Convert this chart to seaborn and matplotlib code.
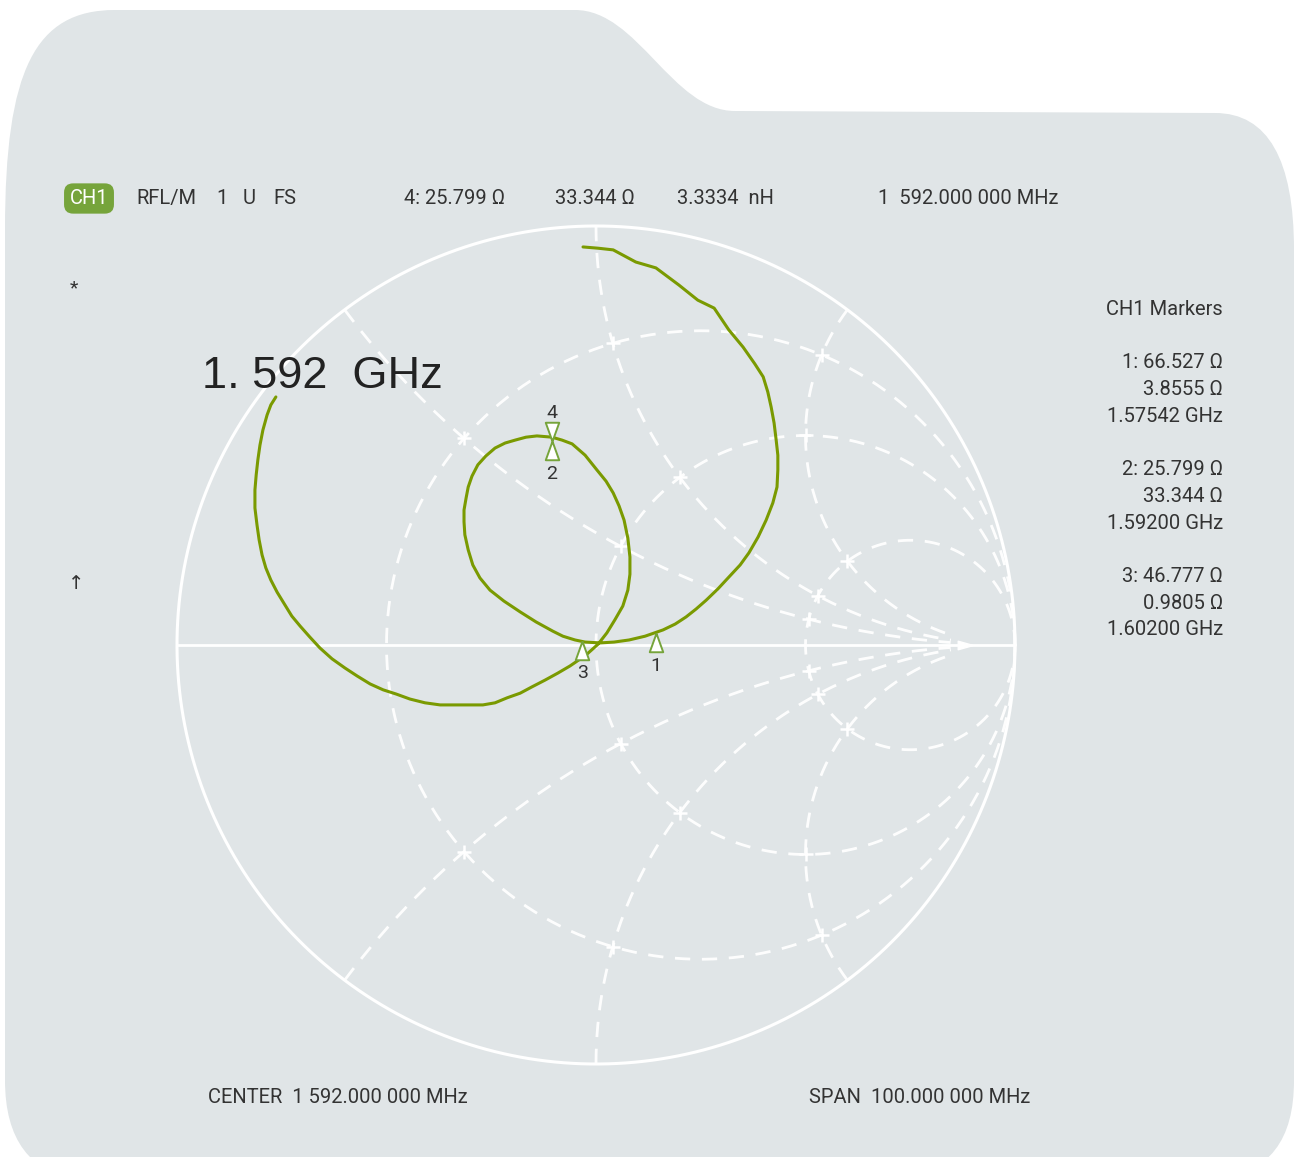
import numpy as np
import pandas as pd
import matplotlib.pyplot as plt
from matplotlib.path import Path
from matplotlib.patches import PathPatch
import seaborn as sns

trace_re = [-0.031, 0.005, 0.041, 0.095, 0.143, 0.198, 0.243, 0.282, 0.317, 0.351,
            0.379, 0.399, 0.410, 0.418, 0.425, 0.430, 0.434, 0.434, 0.432, 0.422,
            0.406, 0.387, 0.365, 0.344, 0.317, 0.291, 0.263, 0.239, 0.215, 0.189,
            0.160, 0.117, 0.079, 0.043, 0.010,
            -0.026, -0.050, -0.079, -0.103, -0.143, -0.181, -0.220, -0.253, -0.277, -0.294,
            -0.305, -0.313, -0.315, -0.315, -0.310, -0.305, -0.296, -0.282, -0.263, -0.241,
            -0.217, -0.193, -0.167, -0.141, -0.105, -0.081, -0.057, -0.026, 0.002, 0.024,
            0.041, 0.055, 0.067, 0.076, 0.081, 0.081, 0.076, 0.064, 0.045, 0.026,
            0.005, -0.024, -0.062, -0.091, -0.122, -0.153, -0.181, -0.212, -0.241, -0.270,
            -0.301, -0.337, -0.372, -0.408, -0.444, -0.477, -0.508, -0.539, -0.570, -0.599,
            -0.630, -0.659, -0.683, -0.706, -0.726, -0.742, -0.761, -0.776, -0.788, -0.797,
            -0.804, -0.809, -0.814, -0.814, -0.811, -0.807, -0.802, -0.795, -0.785, -0.776,
            -0.764]
trace_im = [0.950, 0.947, 0.943, 0.914, 0.900, 0.859, 0.823, 0.804, 0.752, 0.711,
            0.671, 0.640, 0.604, 0.568, 0.530, 0.489, 0.453, 0.418, 0.377, 0.339,
            0.298, 0.258, 0.220, 0.191, 0.162, 0.134, 0.107, 0.086, 0.067, 0.050,
            0.036, 0.021, 0.012, 0.007, 0.005,
            0.007, 0.012, 0.021, 0.033, 0.055, 0.079, 0.105, 0.131, 0.160, 0.191,
            0.227, 0.263, 0.294, 0.322, 0.351, 0.377, 0.403, 0.430, 0.451, 0.470,
            0.482, 0.489, 0.496, 0.499, 0.496, 0.489, 0.480, 0.453, 0.418, 0.391,
            0.363, 0.332, 0.298, 0.255, 0.210, 0.169, 0.131, 0.093, 0.060, 0.029,
            0.002, -0.024, -0.050, -0.067, -0.084, -0.100, -0.115, -0.126, -0.138, -0.143,
            -0.143, -0.143, -0.143, -0.138, -0.129, -0.117, -0.107, -0.093, -0.074, -0.055,
            -0.033, -0.007, 0.019, 0.045, 0.069, 0.095, 0.126, 0.155, 0.184, 0.215,
            0.251, 0.286, 0.327, 0.370, 0.406, 0.442, 0.477, 0.513, 0.549, 0.573,
            0.592]

# Markers (ohms, Z0 = 50)
marker_ids = ["1", "2", "3", "4"]
marker_r = [66.527, 25.799, 46.777, 25.799]
marker_x = [3.8555, 33.344, 0.9805, 33.344]
marker_up = [True, True, True, False]
z0 = 50.0

marker_panel = ["1: 66.527 Ω", "3.8555 Ω", "1.57542 GHz",
                "2: 25.799 Ω", "33.344 Ω", "1.59200 GHz",
                "3: 46.777 Ω", "0.9805 Ω", "1.60200 GHz"]
header_items = ["RFL/M", "1", "U", "FS", "4: 25.799 Ω", "33.344 Ω", "3.3334  nH",
                "1  592.000 000 MHz"]

# Smith chart grid values
r_circles = [1 / 3, 1, 3]
x_arcs = [0.5, 1, 2]

W, H = 1295, 1157
BG = "#e0e5e7"
TRACE = "#7a9a01"
GREEN = "#76a43b"
TXT = "#333333"

sns.set_theme(style="white")
plt.rcParams["font.family"] = ["Roboto", "DejaVu Sans"]

fig = plt.figure(figsize=(W / 100, H / 100), dpi=100)
fig.patch.set_facecolor("white")

# background panel in pixel coordinates
bg = fig.add_axes([0, 0, 1, 1], zorder=0)
bg.set_xlim(0, W)
bg.set_ylim(H, 0)
bg.set_axis_off()
verts = [(5, 1080), (5, 230),
         (5, 70), (35, 10), (115, 10),
         (575, 10),
         (638, 10), (672, 111), (735, 111),
         (1215, 113),
         (1268, 113), (1294, 160), (1294, 250),
         (1294, 1080),
         (1294, 1140), (1270, 1172), (1215, 1182),
         (80, 1182),
         (30, 1172), (5, 1140), (5, 1080),
         (5, 1080)]
codes = ([Path.MOVETO, Path.LINETO] + [Path.CURVE4] * 3 + [Path.LINETO] + [Path.CURVE4] * 3
         + [Path.LINETO] + [Path.CURVE4] * 3 + [Path.LINETO] + [Path.CURVE4] * 3
         + [Path.LINETO] + [Path.CURVE4] * 3 + [Path.CLOSEPOLY])
bg.add_patch(PathPatch(Path(verts, codes), facecolor=BG, edgecolor="none"))

# Smith chart axes in reflection-coefficient units
cx, cy, R = 596, 645, 419
ax = fig.add_axes([0, 0, 1, 1], zorder=1)
ax.patch.set_alpha(0)


def gamma(z):
    return (z - 1) / (z + 1)


dash = dict(color="white", lw=2.0, ls=(0, (5.5, 4.2)), alpha=0.95, zorder=2)
th = np.linspace(0, 2 * np.pi, 600)
ax.plot(np.cos(th), np.sin(th), color="white", lw=2.2, zorder=3)
ax.plot([-1, 1], [0, 0], color="white", lw=2.0, zorder=3)
for r in r_circles:
    c, rad = r / (1 + r), 1 / (1 + r)
    ax.plot(c + rad * np.cos(th), rad * np.sin(th), **dash)
rr = np.concatenate([[0], np.geomspace(1e-3, 12, 500)])
for xv in x_arcs:
    for s in (1, -1):
        g = gamma(rr + 1j * s * xv)
        ax.plot(g.real, g.imag, **dash)
# crossings
for r in r_circles:
    for xv in x_arcs:
        for s in (1, -1):
            g = gamma(r + 1j * s * xv)
            ax.plot(g.real, g.imag, marker="+", ms=10, mew=1.8, color="white",
                    ls="none", zorder=3)
ax.plot(0.9, 0, marker=[(0, 0), (-1, 0.28), (-1, -0.28), (0, 0)], ms=22,
        color="white", ls="none", zorder=3)

# trace
trace = pd.DataFrame({"re": trace_re, "im": trace_im})
sns.lineplot(data=trace, x="re", y="im", sort=False, estimator=None,
             color=TRACE, lw=2.2, ax=ax, zorder=4)

# markers
up_tri = [(0, 0), (0.36, -1), (-0.36, -1), (0, 0)]
dn_tri = [(0, 0), (0.36, 1), (-0.36, 1), (0, 0)]
for mid, mr, mx, up in zip(marker_ids, marker_r, marker_x, marker_up):
    g = gamma(complex(mr / z0, mx / z0))
    ax.plot(g.real, g.imag, marker=up_tri if up else dn_tri, ms=27,
            mfc="white", mec=GREEN, mew=1.4, ls="none", zorder=5)
    ax.annotate(mid, xy=(g.real, g.imag), xytext=(0, -27 if up else 16.5),
                textcoords="offset points", ha="center", va="baseline",
                fontsize=14, color=TXT, zorder=6)

ax.set_xlim(-cx / R, (W - cx) / R)
ax.set_ylim((cy - H) / R, cy / R)
ax.set_axis_off()


def fp(x, y):
    return x / W, 1 - y / H


# header
fig.text(*fp(89, 204), "CH1", color="white", fontsize=14.5, ha="center", va="baseline",
         bbox=dict(boxstyle="round,pad=0.28,rounding_size=0.45", fc=GREEN, ec="none"))
for label, x in zip(header_items, [136, 216, 243, 273, 404, 555, 677, 878]):
    fig.text(*fp(x, 204), label, color=TXT, fontsize=14.5, ha="left", va="baseline")

fig.text(*fp(74, 293), "*", color=TXT, fontsize=14, ha="center", va="baseline")
fig.text(*fp(76, 589), "↑", color=TXT, fontsize=14, ha="center", va="baseline")

fig.text(*fp(202, 388), "1. 592  GHz", color="#222222", fontsize=32.5,
         family="Liberation Sans", ha="left", va="baseline")

# marker panel
fig.text(*fp(1223, 315), "CH1 Markers", color=TXT, fontsize=14.5, ha="right", va="baseline")
for label, y in zip(marker_panel, [361, 388, 415, 468, 495, 522, 575, 602, 628]):
    fig.text(*fp(1223, y + 7), label, color=TXT, fontsize=14.5, ha="right", va="baseline")

# footer
fig.text(*fp(208, 1103), "CENTER  1 592.000 000 MHz", color=TXT, fontsize=14.5,
         ha="left", va="baseline")
fig.text(*fp(809, 1103), "SPAN  100.000 000 MHz", color=TXT, fontsize=14.5,
         ha="left", va="baseline")

fig.savefig("out.png", dpi=100, facecolor=fig.get_facecolor())
